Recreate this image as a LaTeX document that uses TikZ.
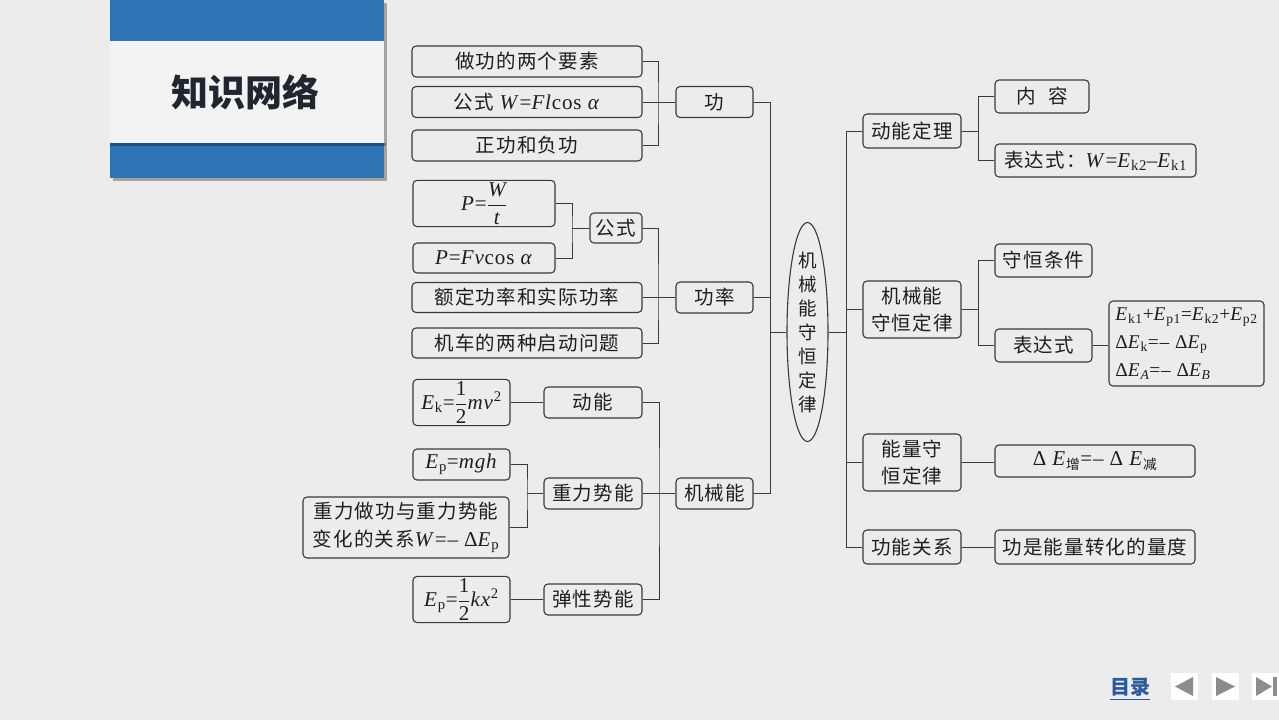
\documentclass[tikz,border=0pt]{standalone}
\usepackage{amsmath}
\usepackage{fontspec}
\setmainfont{Noto Sans CJK SC}[LetterSpace=6]
\newfontfamily\lsf{Liberation Serif}[LetterSpace=4,Scale=1.08]
\newfontfamily\titlefont{Noto Sans CJK SC}
\usetikzlibrary{shapes.geometric}
\definecolor{hdrblue}{HTML}{2E73B4}
\definecolor{bandgray}{HTML}{F2F2F2}
\definecolor{bgc}{HTML}{ECECEC}
\definecolor{linec}{HTML}{3A3A3A}
\definecolor{txt}{HTML}{1E1E1E}
\definecolor{titlec}{HTML}{1F2630}
\definecolor{navblue}{HTML}{2B5A9A}
\definecolor{navgray}{HTML}{8C8C8C}
\newcommand\FM[1]{{\lsf #1}}
\newcommand\iv[1]{\textit{#1}}
\newcommand\sbt[1]{\textsubscript{\upshape #1}}
\tikzset{
  box/.style={draw=linec, line width=1.1pt, rounded corners=4pt, inner sep=2pt,
    text=txt, font=\fontsize{19.5}{22}\selectfont, align=center},
  conn/.style={draw=linec, line width=1pt},
}
\begin{document}
\begin{tikzpicture}[x=1pt,y=-1pt]
\useasboundingbox (0,0) rectangle (1279,720);
\fill[bgc] (0,0) rectangle (1279,720);
% header
\fill[black,opacity=.3] (113,3) rectangle (387,181);
\fill[hdrblue] (110,0) rectangle (384,178);
\fill[black,opacity=.3] (110,143) rectangle (386,146);
\fill[bandgray] (110,41) rectangle (384,143);
\node[font=\titlefont\bfseries\fontsize{37}{40}\selectfont, text=titlec] (title) at (245,92) {知识网络};

% left: 功
\node[box, minimum width=230pt, minimum height=31pt] (a1) at (527,61.5) {做功的两个要素};
\node[box, minimum width=230pt, minimum height=31pt] (a2) at (527,102) {公式\ \FM{\iv{W}=\iv{Fl}cos \iv{α}}};
\node[box, minimum width=230pt, minimum height=31pt] (a3) at (527,145.5) {正功和负功};
\node[box, minimum width=77pt, minimum height=31pt] (A) at (714.5,102) {功};
\coordinate (ja) at (658,102);
\draw[conn] (a1.east) -| (ja) |- (a3.east);
\draw[conn] (a2.east) -- (A.west);

% left: 功率
\node[box, minimum width=142pt, minimum height=43pt] (b1) at (484,203.5) {\FM{\iv{P}=}$\dfrac{\text{\lsf\itshape W}}{\text{\lsf\itshape t}}$};
\node[box, minimum width=142pt, minimum height=30pt] (b2) at (484,258) {\FM{\iv{P}=\iv{Fv}cos \iv{α}}};
\node[box, minimum width=52pt, minimum height=30pt] (bb) at (616,228) {公式};
\node[box, minimum width=230pt, minimum height=30pt] (b3) at (527,297.5) {额定功率和实际功率};
\node[box, minimum width=230pt, minimum height=30pt] (b4) at (527,343) {机车的两种启动问题};
\node[box, minimum width=77pt, minimum height=31pt] (B) at (714.5,297.5) {功率};
\coordinate (jb) at (572,228);
\coordinate (jb2) at (658,297.5);
\draw[conn] (b1.east) -| (jb) |- (b2.east);
\draw[conn] (jb) -- (bb.west);
\draw[conn] (bb.east) -| (jb2) |- (b4.east);
\draw[conn] (b3.east) -- (B.west);

% left: 机械能
\node[box, minimum width=97pt, minimum height=45pt] (c1) at (461.5,402.5) {\FM{\iv{E}\sbt{k}=}$\dfrac{\text{\lsf 1}}{\text{\lsf 2}}$\FM{\iv{mv}\textsuperscript{2}}};
\node[box, minimum width=98pt, minimum height=31pt] (c2) at (593,402.5) {动能};
\node[box, minimum width=97pt, minimum height=31pt] (c3) at (461.5,464.5) {\FM{\iv{E}\sbt{p}=\iv{mgh}}};
\node[box, minimum width=98pt, minimum height=31pt] (c4) at (593,493.5) {重力势能};
\node[box, minimum width=206pt, minimum height=61pt, font=\fontsize{19.5}{28}\selectfont] (c5) at (406,527.5) {重力做功与重力势能\\变化的关系\FM{\iv{W}=– Δ\iv{E}\sbt{p}}};
\node[box, minimum width=97pt, minimum height=45pt] (c6) at (461.5,599.5) {\FM{\iv{E}\sbt{p}=}$\dfrac{\text{\lsf 1}}{\text{\lsf 2}}$\FM{\iv{kx}\textsuperscript{2}}};
\node[box, minimum width=98pt, minimum height=31pt] (c7) at (593,599.5) {弹性势能};
\node[box, minimum width=77pt, minimum height=31pt] (C) at (714.5,493.5) {机械能};
\coordinate (jc) at (527,493.5);
\coordinate (jm) at (659,493.5);
\draw[conn] (c1.east) -- (c2.west);
\draw[conn] (c3.east) -| (jc) |- (c5.east);
\draw[conn] (jc) -- (c4.west);
\draw[conn] (c6.east) -- (c7.west);
\draw[conn] (c2.east) -| (jm) |- (c7.east);
\draw[conn] (c4.east) -- (C.west);

% centre
\node[ellipse, draw=linec, line width=1.1pt, minimum width=41pt, minimum height=219pt, inner sep=0pt,
  label={[align=center, text=txt, font=\fontsize{18.5}{24}\selectfont]center:机\\械\\能\\守\\恒\\定\\律}] (M) at (807.5,332) {};
\coordinate (jl) at (770,332);
\coordinate (jr) at (846,332);
\draw[conn] (A.east) -| (jl) |- (C.east);
\draw[conn] (B.east) -- (B.east -| jl);
\draw[conn] (jl) -- (M.west);
\draw[conn] (M.east) -- (jr);

% right
\node[box, minimum width=98pt, minimum height=34pt] (D) at (912,131) {动能定理};
\node[box, minimum width=94pt, minimum height=33pt] (d1) at (1042,96.5) {内\hspace{12pt}容};
\node[box, minimum width=201pt, minimum height=33pt] (d2) at (1095.5,160.5) {表达式：\FM{\iv{W}=\iv{E}\sbt{k2}–\iv{E}\sbt{k1}}};
\node[box, minimum width=98pt, minimum height=57pt, font=\fontsize{19.5}{27}\selectfont] (E) at (912,309.5) {机械能\\守恒定律};
\node[box, minimum width=97pt, minimum height=33pt] (e1) at (1043.5,260.5) {守恒条件};
\node[box, minimum width=97pt, minimum height=33pt] (e2) at (1043.5,345.5) {表达式};
\node[box, minimum width=155pt, minimum height=85pt, align=left, font=\fontsize{18}{28}\selectfont] (e3) at (1186.5,343.5)
  {\FM{\iv{E}\sbt{k1}+\iv{E}\sbt{p1}=\iv{E}\sbt{k2}+\iv{E}\sbt{p2}}\\\FM{Δ\iv{E}\sbt{k}=– Δ\iv{E}\sbt{p}}\\\FM{Δ\iv{E}\textsubscript{\itshape A}=– Δ\iv{E}\textsubscript{\itshape B}}};
\node[box, minimum width=98pt, minimum height=57pt, font=\fontsize{19.5}{27}\selectfont] (F) at (912,462.5) {能量守\\恒定律};
\node[box, minimum width=200pt, minimum height=32pt] (f1) at (1095,461) {\FM{Δ \iv{E}\textsubscript{\normalfont 增}=– Δ \iv{E}\textsubscript{\normalfont 减}}};
\node[box, minimum width=98pt, minimum height=34pt] (G) at (912,547) {功能关系};
\node[box, minimum width=200pt, minimum height=34pt] (g1) at (1095,547) {功是能量转化的量度};
\coordinate (jd) at (978,131);
\coordinate (je) at (978,309.5);
\draw[conn] (D.west) -| (jr) |- (G.west);
\draw[conn] (E.west) -- (E.west -| jr);
\draw[conn] (F.west) -- (F.west -| jr);
\draw[conn] (d1.west) -| (jd) |- (d2.west);
\draw[conn] (D.east) -- (jd);
\draw[conn] (e1.west) -| (je) |- (e2.west);
\draw[conn] (E.east) -- (je);
\draw[conn] (e2.east) -- (e2.east -| e3.west);
\draw[conn] (F.east) -- (F.east -| f1.west);
\draw[conn] (G.east) -- (g1.west);

% navigation
\node[font=\titlefont\bfseries\fontsize{20}{24}\selectfont, text=navblue] (toc) at (1130,689) {\underline{目录}};
\fill[white] (1171,673) rectangle (1198,700);
\fill[navgray] (1193,677) -- (1175,686.5) -- (1193,696) -- cycle;
\fill[white] (1212,673) rectangle (1239,700);
\fill[navgray] (1216,677) -- (1235,686.5) -- (1216,696) -- cycle;
\fill[white] (1252,673) rectangle (1279,700);
\fill[navgray] (1256,677) -- (1272,686.5) -- (1256,696) -- cycle;
\fill[navgray] (1273,677) rectangle (1277,696);
\end{tikzpicture}
\end{document}
